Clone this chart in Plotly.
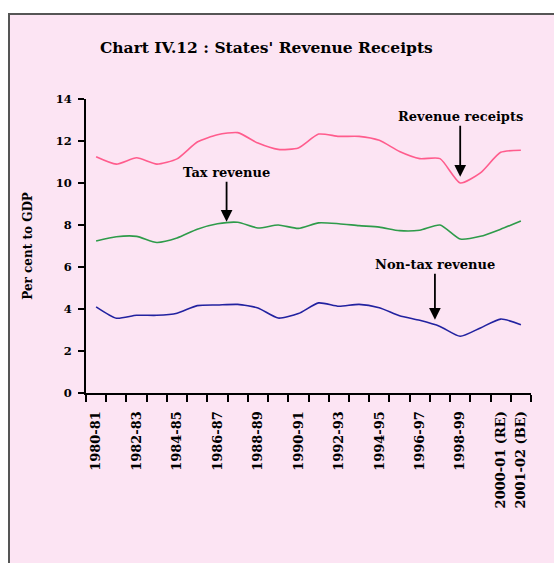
import plotly.graph_objects as go

# Fiscal years 1980-81 to 2001-02
years = ["1980-81", "1981-82", "1982-83", "1983-84", "1984-85", "1985-86",
         "1986-87", "1987-88", "1988-89", "1989-90", "1990-91", "1991-92",
         "1992-93", "1993-94", "1994-95", "1995-96", "1996-97", "1997-98",
         "1998-99", "1999-00", "2000-01 (RE)", "2001-02 (BE)"]

# Per cent to GDP
revenue_receipts = [11.25, 10.9, 11.2, 10.9, 11.15, 11.95, 12.3, 12.4, 11.9, 11.6,
                    11.67, 12.33, 12.22, 12.22, 12.03, 11.5, 11.16, 11.16, 10.0,
                    10.48, 11.46, 11.56]
tax_revenue = [7.24, 7.44, 7.46, 7.17, 7.38, 7.8, 8.06, 8.13, 7.86, 8.0,
               7.84, 8.1, 8.06, 7.97, 7.9, 7.73, 7.75, 8.0, 7.33, 7.46, 7.8, 8.19]
non_tax_revenue = [4.1, 3.56, 3.7, 3.7, 3.8, 4.16, 4.19, 4.22, 4.05, 3.57,
                   3.78, 4.29, 4.13, 4.22, 4.06, 3.68, 3.46, 3.17, 2.7, 3.1,
                   3.52, 3.25]

# Only every other year is labelled, plus the two final estimate years
tick_text = ["<b>" + y + "</b>" if (i % 2 == 0 or i >= 20) else ""
             for i, y in enumerate(years)]

W, H = 554, 563
L, R, T, B = 86, 23, 99, 170
pw, ph = W - L - R, H - T - B

def px_x(p):
    return (p - L) / pw

def px_y(p):
    return (H - B - p) / ph

fig = go.Figure()

series = [
    ("Revenue receipts", revenue_receipts, "#FF5C8D"),
    ("Tax revenue", tax_revenue, "#2E9B4A"),
    ("Non-tax revenue", non_tax_revenue, "#2222A0"),
]
for name, vals, col in series:
    fig.add_trace(go.Scatter(
        x=years, y=vals, mode="lines", name=name,
        line=dict(color=col, width=1.6, shape="spline", smoothing=0.6),
    ))

label_font = dict(family="DejaVu Serif", size=13, color="black")

annos = [
    ("<b>Revenue receipts</b>", 18, 10.3, -60),
    ("<b>Tax revenue</b>", 6.45, 8.16, -49),
    ("<b>Non-tax revenue</b>", 16.75, 3.49, -55),
]
annotations = []
for txt, xi, yv, ay in annos:
    annotations.append(dict(
        x=xi, y=yv, xref="x", yref="y", text=txt, showarrow=True,
        ax=0, ay=ay, arrowhead=2, arrowsize=1.3, arrowwidth=1.8,
        arrowcolor="black", font=label_font, standoff=0,
    ))

annotations.append(dict(
    x=px_x(266), y=px_y(48), xref="paper", yref="paper",
    text="<b>Chart IV.12 : States' Revenue Receipts</b>", showarrow=False,
    font=dict(family="DejaVu Serif", size=15.5, color="black"),
    xanchor="center", yanchor="middle",
))

fig.update_layout(
    width=W, height=H,
    margin=dict(l=L, r=R, t=T, b=B, pad=0),
    paper_bgcolor="white",
    plot_bgcolor="rgba(0,0,0,0)",
    showlegend=False,
    annotations=annotations,
    shapes=[dict(
        type="rect", xref="paper", yref="paper", layer="below",
        x0=px_x(9), x1=px_x(570), y0=px_y(580), y1=px_y(14),
        fillcolor="#FCE4F3", line=dict(color="#555555", width=2),
    )],
)

fig.update_xaxes(
    type="category", tickmode="array", tickvals=years, ticktext=tick_text,
    tickson="boundaries", ticks="outside", ticklen=7, tickwidth=1.5,
    tickcolor="black", tickangle=-90, showline=True, linecolor="black",
    linewidth=2, showgrid=False, zeroline=False, range=[-0.5, 21.5],
    tickfont=dict(family="DejaVu Serif", size=13, color="black"),
    ticklabelstandoff=11,
)
fig.update_yaxes(
    range=[0, 14], dtick=2, ticks="outside", ticklen=6, tickwidth=1.5,
    tickcolor="black", showline=True, linecolor="black", linewidth=2,
    showgrid=False, zeroline=False,
    tickfont=dict(family="DejaVu Serif", size=11.5, color="black"),
    tickprefix="<b>", ticksuffix="</b>", ticklabelstandoff=4,
    title=dict(text="<b>Per cent to GDP</b>", standoff=20,
               font=dict(family="DejaVu Serif", size=12, color="black")),
)

fig.write_html("out.html")
